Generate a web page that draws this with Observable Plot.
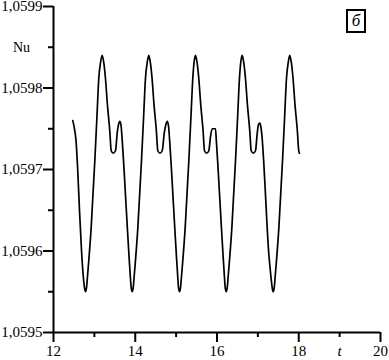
<!DOCTYPE html>
<html>
<head>
<meta charset="utf-8">
<script src="https://cdn.jsdelivr.net/npm/d3@7"></script>
<script src="https://cdn.jsdelivr.net/npm/@observablehq/plot@0.6"></script>
<style>
  html, body { margin: 0; padding: 0; background: white; }
  #wrap { position: relative; width: 389px; height: 360px; }
  #tag { position: absolute; left: 346px; top: 9px; width: 16px; height: 20px;
         border: 2px solid black; font-family: "Liberation Serif", serif; font-style: italic;
         font-size: 17px; line-height: 20px; text-align: center; background: white; }
</style>
</head>
<body>
<div id="wrap"><div id="tag">б</div></div>
<script>
const tValues = [
  12.472, 12.513, 12.550, 12.587, 12.636, 12.685, 12.734, 12.758,
  12.783, 12.808, 12.832, 12.922, 13.011, 13.064, 13.108, 13.150, 13.191, 13.230, 13.271, 13.320, 13.376, 13.412, 13.460, 13.517, 13.559, 13.590, 13.622, 13.652, 13.681, 13.720, 13.762, 13.806, 13.847, 13.879, 13.901,
  13.925, 13.950, 13.974, 14.064, 14.153, 14.206, 14.250, 14.292, 14.331, 14.370, 14.411, 14.460, 14.516, 14.552, 14.605, 14.660, 14.710, 14.748, 14.782, 14.812, 14.841, 14.880, 14.922, 14.966, 15.007, 15.039, 15.059,
  15.083, 15.108, 15.132, 15.222, 15.311, 15.364, 15.408, 15.438, 15.474, 15.513, 15.554, 15.603, 15.659, 15.694, 15.747, 15.800, 15.845, 15.883, 15.963, 15.983, 16.022, 16.064, 16.108, 16.149, 16.181, 16.201,
  16.225, 16.250, 16.274, 16.364, 16.453, 16.506, 16.550, 16.580, 16.616, 16.655, 16.696, 16.745, 16.801, 16.837, 16.890, 16.942, 16.985, 17.015, 17.047, 17.075, 17.105, 17.140, 17.180, 17.222, 17.262, 17.299, 17.331, 17.353,
  17.375, 17.400, 17.424, 17.514, 17.603, 17.656, 17.700, 17.742, 17.780, 17.819, 17.860, 17.909, 17.965, 18.000, 18.015
];
const nuValues = [
  1.059760, 1.059750, 1.059736, 1.059705, 1.059650, 1.059601, 1.059566, 1.059555,
  1.059550, 1.059555, 1.059569, 1.059629, 1.059711, 1.059766, 1.059812, 1.059831, 1.059840, 1.059831, 1.059812, 1.059779, 1.059748, 1.059723, 1.059720, 1.059723, 1.059745, 1.059755, 1.059759, 1.059754, 1.059736, 1.059705, 1.059668, 1.059629, 1.059594, 1.059569, 1.059555,
  1.059550, 1.059555, 1.059569, 1.059629, 1.059711, 1.059766, 1.059812, 1.059831, 1.059840, 1.059831, 1.059812, 1.059779, 1.059748, 1.059723, 1.059720, 1.059723, 1.059745, 1.059755, 1.059759, 1.059754, 1.059736, 1.059705, 1.059668, 1.059629, 1.059594, 1.059569, 1.059555,
  1.059550, 1.059555, 1.059569, 1.059629, 1.059711, 1.059766, 1.059812, 1.059831, 1.059840, 1.059831, 1.059812, 1.059779, 1.059748, 1.059723, 1.059720, 1.059723, 1.059742, 1.059750, 1.059750, 1.059736, 1.059705, 1.059668, 1.059629, 1.059594, 1.059569, 1.059555,
  1.059550, 1.059555, 1.059569, 1.059629, 1.059711, 1.059766, 1.059812, 1.059831, 1.059840, 1.059831, 1.059812, 1.059779, 1.059748, 1.059723, 1.059720, 1.059723, 1.059745, 1.059755, 1.059757, 1.059752, 1.059738, 1.059712, 1.059675, 1.059634, 1.059600, 1.059579, 1.059563, 1.059554,
  1.059550, 1.059555, 1.059569, 1.059629, 1.059711, 1.059766, 1.059812, 1.059831, 1.059840, 1.059831, 1.059812, 1.059779, 1.059748, 1.059723, 1.059720
];
const xMajorTicks = [12, 14, 16, 18, 20];
const xMinorTicks = [13, 15, 17, 19];
const yMajorTicks = [1.0595, 1.0596, 1.0597, 1.0598, 1.0599];
const yMinorTicks = [1.05955, 1.05965, 1.05975, 1.05985];
const xLabel = "t";
const yLabel = "Nu";

const data = tValues.map((t, i) => ({t, nu: nuValues[i]}));
const fmtY = d => d.toFixed(4).replace(".", ",");

const chart = Plot.plot({
  width: 389, height: 360,
  marginLeft: 53, marginRight: 9, marginTop: 6, marginBottom: 28,
  x: {domain: [12, 20]},
  y: {domain: [1.0595, 1.0599]},
  style: {fontFamily: "'Liberation Serif', serif", fontSize: "15px", color: "black", background: "white"},
  marks: [
    Plot.axisY(yMajorTicks, {tickSize: 10, tickPadding: 1, tickFormat: fmtY, strokeWidth: 2, fontSize: 15, label: null}),
    Plot.axisY(yMinorTicks, {tickSize: 5, tickFormat: () => "", strokeWidth: 2, label: null}),
    Plot.axisX(xMajorTicks, {tickSize: 10, tickPadding: 3, tickFormat: d => String(d), strokeWidth: 2, fontSize: 15, label: null}),
    Plot.axisX(xMinorTicks, {tickSize: 5, tickFormat: () => "", strokeWidth: 2, label: null}),
    Plot.ruleX([12], {y1: 1.0595, y2: 1.0599, strokeWidth: 2}),
    Plot.ruleY([1.0595], {x1: 12, x2: 20, strokeWidth: 2}),
    Plot.line(data, {x: "t", y: "nu", curve: "monotone-x", strokeWidth: 1.7, stroke: "black"}),
    Plot.text([yLabel], {x: 12, y: 1.05985, dx: -32, text: d => d, fontSize: 14}),
    Plot.text([xLabel], {x: 19, y: 1.0595, dy: 19, text: d => d, fontSize: 15, fontStyle: "italic"})
  ]
});
document.getElementById("wrap").prepend(chart);
chart.style.display = "block";
</script>
</body>
</html>
